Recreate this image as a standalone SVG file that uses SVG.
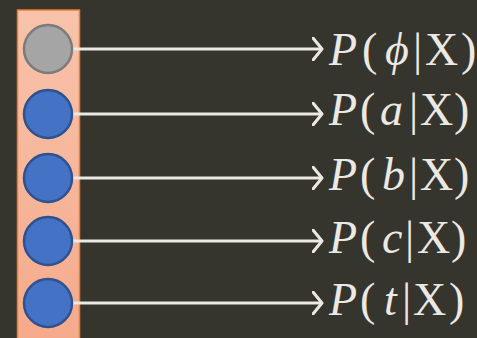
<svg xmlns="http://www.w3.org/2000/svg" width="477" height="338" viewBox="0 0 477 338">
<defs>
<linearGradient id="barg" x1="0" y1="0" x2="0" y2="1">
<stop offset="0" stop-color="#f8c3ab"/>
<stop offset="1" stop-color="#f5a98a"/>
</linearGradient>
<marker id="arr" viewBox="0 0 12 24" refX="10" refY="12" markerWidth="12" markerHeight="24" markerUnits="userSpaceOnUse" orient="auto">
<path d="M1,1 L10,12 L1,23" fill="none" stroke="#ece8e4" stroke-width="3" stroke-linecap="round" stroke-linejoin="round"/>
</marker>
</defs>
<style>
.conn{stroke:#ece8e4;stroke-width:3;fill:none;marker-end:url(#arr)}
.blue{fill:#4472c4;stroke:#2f528f;stroke-width:2.5}
.gray{fill:#a5a5a5;stroke:#7b7b7b;stroke-width:2.5}
.lbl{font-family:"Liberation Serif","DejaVu Serif",serif;font-size:46px;fill:#ece8e4}
.it{font-style:italic}
</style>
<rect width="477" height="338" fill="#35352e"/>
<g id="bar">
<rect x="17.5" y="10" width="62" height="340" fill="url(#barg)" stroke="#ed7d31" stroke-width="1.5"/>
</g>
<g id="connectors">
<line class="conn" x1="72" y1="49" x2="322" y2="49"/>
<line class="conn" x1="72" y1="114" x2="322" y2="114"/>
<line class="conn" x1="72" y1="178" x2="322" y2="178"/>
<line class="conn" x1="72" y1="241" x2="322" y2="241"/>
<line class="conn" x1="72" y1="303" x2="322" y2="303"/>
</g>
<g id="n-phi"><circle class="gray" cx="48" cy="49" r="24"/></g>
<g id="n-a"><circle class="blue" cx="48" cy="114" r="24"/></g>
<g id="n-b"><circle class="blue" cx="48" cy="178" r="24"/></g>
<g id="n-c"><circle class="blue" cx="48" cy="241" r="24"/></g>
<g id="n-t"><circle class="blue" cx="48" cy="303" r="24"/></g>
<g id="l-phi"><text class="lbl" y="65"><tspan class="it" x="329">P</tspan><tspan x="362">(</tspan><tspan class="it" x="385">ϕ</tspan><tspan x="413">|</tspan><tspan x="425">X</tspan><tspan x="461">)</tspan></text></g>
<g id="l-a"><text class="lbl" y="125"><tspan class="it" x="329">P</tspan><tspan x="360">(</tspan><tspan class="it" x="380">a</tspan><tspan x="409">|</tspan><tspan x="420">X</tspan><tspan x="454">)</tspan></text></g>
<g id="l-b"><text class="lbl" y="190"><tspan class="it" x="329">P</tspan><tspan x="360">(</tspan><tspan class="it" x="382">b</tspan><tspan x="409">|</tspan><tspan x="420">X</tspan><tspan x="454">)</tspan></text></g>
<g id="l-c"><text class="lbl" y="253"><tspan class="it" x="329">P</tspan><tspan x="360">(</tspan><tspan class="it" x="382">c</tspan><tspan x="405">|</tspan><tspan x="417">X</tspan><tspan x="451">)</tspan></text></g>
<g id="l-t"><text class="lbl" y="315"><tspan class="it" x="329">P</tspan><tspan x="360">(</tspan><tspan class="it" x="384">t</tspan><tspan x="402">|</tspan><tspan x="413">X</tspan><tspan x="449">)</tspan></text></g>
</svg>
